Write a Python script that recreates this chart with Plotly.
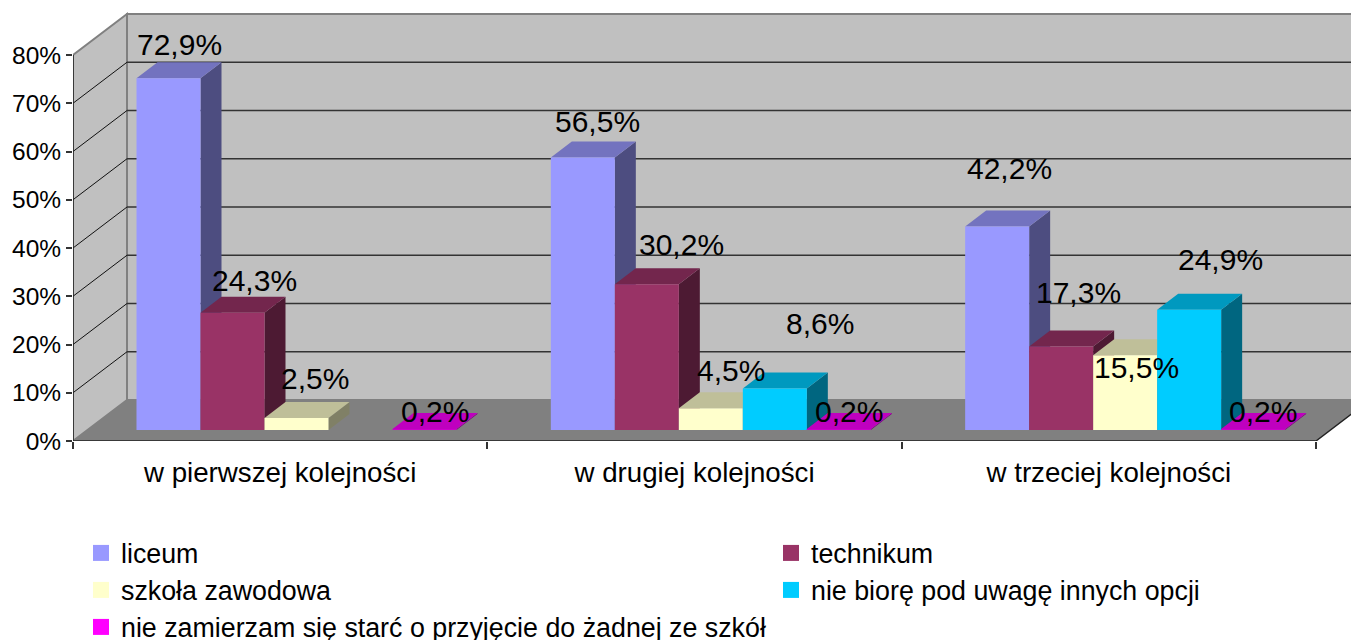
import plotly.graph_objects as go

categories = ["w pierwszej kolejności", "w drugiej kolejności", "w trzeciej kolejności"]
series_names = ["liceum", "technikum", "szkoła zawodowa",
                "nie biorę pod uwagę innych opcji",
                "nie zamierzam się starć o przyjęcie do żadnej ze szkół"]
liceum = [72.9, 56.5, 42.2]
technikum = [24.3, 30.2, 17.3]
szkola = [2.5, 4.5, 15.5]
nie_biore = [None, 8.6, 24.9]
nie_zamierzam = [0.2, 0.2, 0.2]
series_values = [liceum, technikum, szkola, nie_biore, nie_zamierzam]
y_ticks = [0, 10, 20, 30, 40, 50, 60, 70, 80]

front_colors = ["#9999FF", "#993366", "#FFFFCC", "#00CCFF", "#CC00CC"]
top_colors = ["#7373BF", "#73264D", "#BFBF99", "#0099BF", "#BF00BF"]
side_colors = ["#4D4D80", "#4D1A33", "#808066", "#006680", "#800080"]
legend_colors = ["#9999FF", "#993366", "#FFFFCC", "#00CCFF", "#FF00FF"]

# label nudges in pixels, by series then category
label_dx = [[11, 15, 12], [22, 35, 17], [18, 20, 11], [0, 45, 31], [10, 10, 10]]
label_dy = [[34, 36, 58], [32, 40, 54], [39, 38, -12], [0, 65, 50], [18, 18, 18]]

FONT = "Liberation Sans, Arial, sans-serif"
PAGE = 8  # default body margin of the written page
W, H = 1359 - PAGE, 650
L, T, Y0 = 73 - PAGE, 10 - PAGE, 441 - PAGE
PX_X = 414.33
PX_Y = 4.825
XMAX = (W - L) / PX_X
YMAX = (Y0 - T) / PX_Y
WALL_DX, WALL_DY = 54 / PX_X, 41 / PX_Y
BAR_DX, BAR_DY = 21 / PX_X, 16 / PX_Y
BAR_W = 64 / PX_X
BAR_START = 0.2305
BASE = 11 / PX_Y

fig = go.Figure()

# walls and floor
shapes = [
    dict(type="path", layer="below", xref="x", yref="y", fillcolor="#C0C0C0",
         line=dict(color="#808080", width=2),
         path=f"M0,0 L{WALL_DX},{WALL_DY} L{WALL_DX},{80 + WALL_DY} L0,80 Z"),
    dict(type="path", layer="below", xref="x", yref="y", fillcolor="#C0C0C0",
         line=dict(color="#808080", width=2),
         path=f"M{WALL_DX},{WALL_DY} L{XMAX + 1},{WALL_DY} L{XMAX + 1},{80 + WALL_DY} L{WALL_DX},{80 + WALL_DY} Z"),
    dict(type="path", layer="below", xref="x", yref="y", fillcolor="#808080",
         line=dict(width=0),
         path=f"M0,0 L{WALL_DX},{WALL_DY} L{3 + WALL_DX},{WALL_DY} L3,0 Z"),
]

# gridlines
gx_back, gy_back, gx_side, gy_side = [], [], [], []
for t in y_ticks[1:-1]:
    gx_back += [WALL_DX, 3 + WALL_DX, None]
    gy_back += [t + WALL_DY, t + WALL_DY, None]
for t in y_ticks[1:-1]:
    gx_side += [0, WALL_DX, None]
    gy_side += [t, t + WALL_DY, None]
fig.add_trace(go.Scatter(x=gx_back, y=gy_back, mode="lines", showlegend=False, hoverinfo="skip",
                         line=dict(color="#333333", width=1.3), zorder=0))
fig.add_trace(go.Scatter(x=gx_side, y=gy_side, mode="lines", showlegend=False, hoverinfo="skip",
                         line=dict(color="#111111", width=1), zorder=0))

annotations = []
for j, (name, vals) in enumerate(zip(series_names, series_values)):
    xc = [i + BAR_START + j * BAR_W for i in range(len(categories))]
    sx, sy, tx, ty = [], [], [], []
    for i, v in enumerate(vals):
        if v is None:
            continue
        xl, xr = xc[i] - BAR_W / 2, xc[i] + BAR_W / 2
        top = BASE + v
        sx += [xr, xr, xr + BAR_DX, xr + BAR_DX, xr, None]
        sy += [BASE, top, top + BAR_DY, BASE + BAR_DY, BASE, None]
        tx += [xl, xr, xr + BAR_DX, xl + BAR_DX, xl, None]
        ty += [top, top, top + BAR_DY, top + BAR_DY, top, None]
        annotations.append(dict(
            x=xc[i], y=top, xref="x", yref="y", showarrow=False,
            text=f"{v:.1f}%".replace(".", ","), xanchor="center", yanchor="middle",
            xshift=label_dx[j][i], yshift=label_dy[j][i],
            font=dict(family=FONT, size=30, color="#000000")))
    z = 3 * j + 1
    fig.add_trace(go.Scatter(x=sx, y=sy, mode="lines", fill="toself", fillcolor=side_colors[j],
                             line=dict(width=0, color=side_colors[j]), showlegend=False,
                             hoverinfo="skip", zorder=z))
    fig.add_trace(go.Scatter(x=tx, y=ty, mode="lines", fill="toself", fillcolor=top_colors[j],
                             line=dict(width=0, color=top_colors[j]), showlegend=False,
                             hoverinfo="skip", zorder=z + 1))
    fig.add_trace(go.Bar(x=xc, y=vals, base=[BASE] * len(vals), width=BAR_W, name=name,
                         marker=dict(color=front_colors[j], line=dict(width=0)),
                         showlegend=False, zorder=z + 2))

# axis lines and floor front edge
fig.add_trace(go.Scatter(x=[0, 0, None, 0, 3, 3 + WALL_DX], y=[80, 0, None, 0, 0, WALL_DY],
                         mode="lines", line=dict(color="#222222", width=1.5), cliponaxis=False,
                         showlegend=False, hoverinfo="skip", zorder=30))

# legend keys, one positioned legend per entry
legend_pos = [(81, 553), (771, 553), (81, 590), (771, 590), (81, 627)]
layout_legends = {}
for j, name in enumerate(series_names):
    key = "legend" if j == 0 else f"legend{j + 1}"
    fig.add_trace(go.Scatter(x=[None], y=[None], mode="markers", name=name, legend=key,
                             marker=dict(symbol="square", size=17, color=legend_colors[j],
                                         line=dict(width=0))))
    px, py = legend_pos[j]
    layout_legends[key] = dict(
        x=(px - PAGE - L) / (W - L), y=(Y0 - (py - PAGE)) / (Y0 - T), xanchor="left", yanchor="middle",
        bgcolor="rgba(0,0,0,0)", borderwidth=0, itemclick=False, itemdoubleclick=False,
        font=dict(family=FONT, size=26.8, color="#000000"))

fig.update_layout(
    width=W, height=H, autosize=False,
    margin=dict(l=L, r=0, t=T, b=H - Y0),
    paper_bgcolor="#FFFFFF", plot_bgcolor="rgba(0,0,0,0)",
    barmode="overlay", showlegend=True,
    shapes=shapes, annotations=annotations,
    xaxis=dict(range=[0, XMAX], showgrid=False, zeroline=False, showline=False,
               tickmode="array", tickvals=[0.5, 1.5, 2.5], ticktext=categories, ticks="",
               ticklabelstandoff=12,
               tickfont=dict(family=FONT, size=27.7, color="#000000"),
               minor=dict(tickmode="array", tickvals=[0, 1, 2, 3], ticks="outside", ticklen=7,
                          tickwidth=1.5, tickcolor="#333333")),
    yaxis=dict(range=[0, YMAX], showgrid=False, zeroline=False, showline=False,
               tickmode="array", tickvals=y_ticks, ticktext=[f"{t}%" for t in y_ticks],
               ticks="outside", ticklen=6, tickwidth=1.5, tickcolor="#333333",
               tickfont=dict(family=FONT, size=24.5, color="#000000")),
    **layout_legends,
)

fig.write_html("out.html", post_script="document.documentElement.style.overflow='hidden';")
